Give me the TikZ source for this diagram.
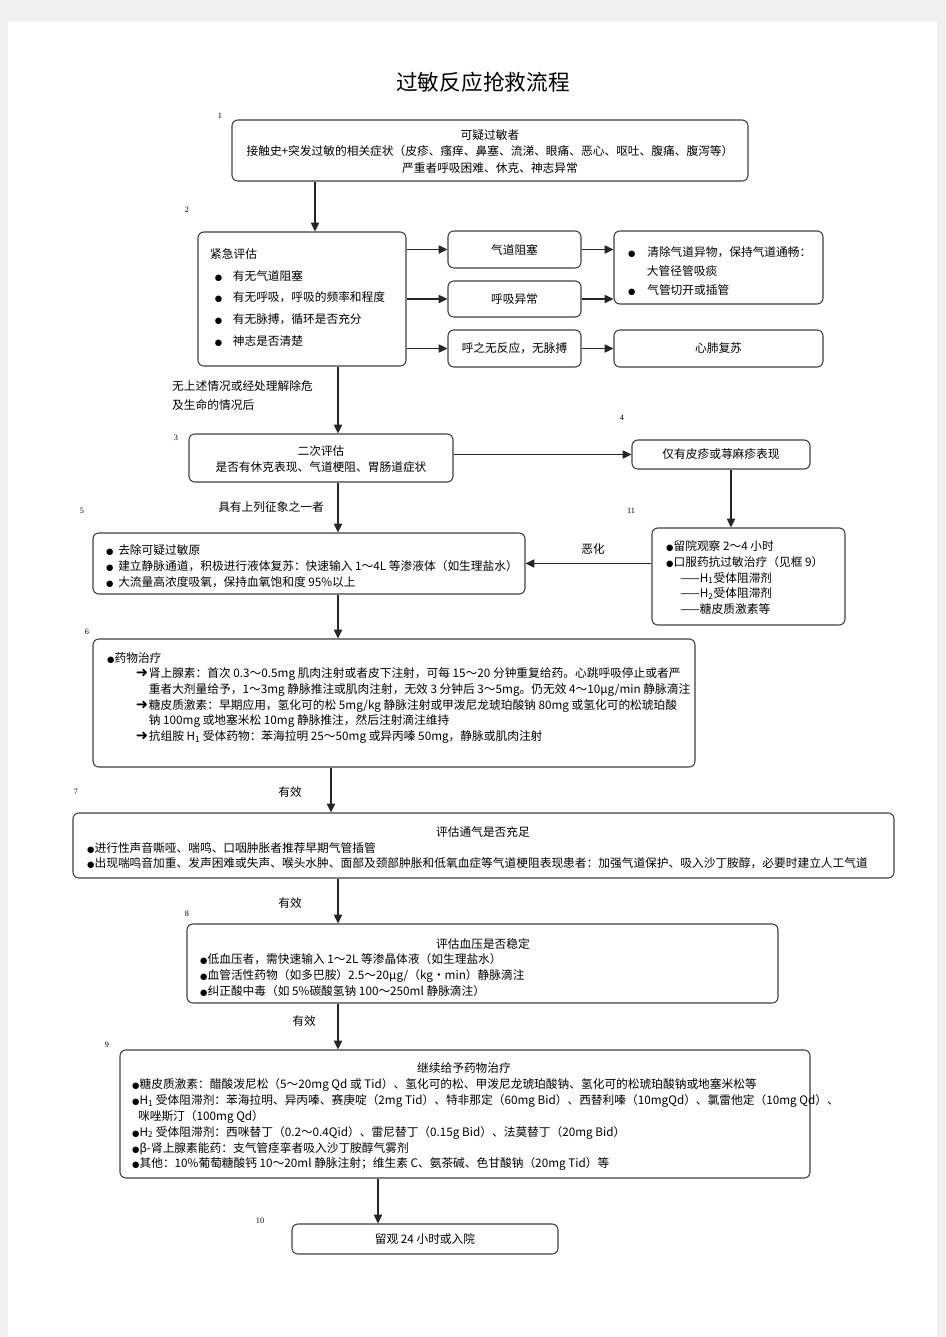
\documentclass[tikz,border=0pt]{standalone}
\usepackage{fontspec}
\setmainfont{Noto Sans CJK SC}
\newfontfamily\symfont{DejaVu Sans}
\newfontfamily\numfont{Liberation Serif}
\usetikzlibrary{arrows.meta, positioning, calc}

\newcommand{\dotb}{{\symfont\fontsize{7.2}{7}\selectfont ●}}
\newcommand{\arrb}{\makebox[11pt][l]{\symfont\bfseries\fontsize{12.5}{8}\selectfont ➜}}

\begin{document}
\begin{tikzpicture}[x=0.03cm, y=-0.03cm,
		Box/.style 2 args={
			draw=black!75, line width=0.9pt, rounded corners=5pt,
			fill=white, inner sep=0pt,
			minimum width=#1*0.03cm, minimum height=#2*0.03cm,
			align=center, font=\fontsize{10}{14}\selectfont
		},
		Txt/.style={inner sep=0pt, anchor=north west, align=left,
			font=\fontsize{10}{13.6}\selectfont},
		Num/.style={inner sep=0pt, font=\numfont\fontsize{7}{8}\selectfont},
		arr/.style={-{Triangle[length=7.5pt,width=7pt]}, line width=1pt, black!85}
	]
	% page
	\fill[black!6] (0,0) rectangle (945,1337);
	\fill[white] (8,22) rectangle (937,1337);
	\useasboundingbox (0,0) rectangle (945,1337);

	\node (title) at (483,82) {\fontsize{18.5}{20}\selectfont 过敏反应抢救流程};

	% step numbers
	\node[Num] (n1) at (220,116) {1};
	\node[Num] (n2) at (187,210) {2};
	\node[Num] (n3) at (176,438) {3};
	\node[Num] (n4) at (622,418) {4};
	\node[Num] (n5) at (82,511) {5};
	\node[Num] (n11) at (631,511) {11};
	\node[Num] (n6) at (87,632) {6};
	\node[Num] (n7) at (76,792) {7};
	\node[Num] (n8) at (187,914) {8};
	\node[Num] (n9) at (107,1045) {9};
	\node[Num] (n10) at (260,1221) {10};

	% boxes
	\node[Box={516}{61}] (b1) at (490,150.5) {\rule{0pt}{10pt}可疑过敏者\\接触史+突发过敏的相关症状（皮疹、瘙痒、鼻塞、流涕、眼痛、恶心、呕吐、腹痛、腹泻等）\\严重者呼吸困难、休克、神志异常};
	\node[Box={208}{134}] (b2) at (302,299) {};
	\node[Box={133}{37}] (air) at (514.5,249.5) {气道阻塞};
	\node[Box={133}{36}] (breath) at (514.5,299) {呼吸异常};
	\node[Box={133}{37}] (noresp) at (514.5,348.5) {呼之无反应，无脉搏};
	\node[Box={209}{73}] (clear) at (718.5,267.5) {};
	\node[Box={209}{37}] (cpr) at (718.5,348.5) {心肺复苏};
	\node[Box={264}{48}] (b3) at (321,458) {\rule{0pt}{10pt}二次评估\\是否有休克表现、气道梗阻、胃肠道症状};
	\node[Box={178}{29}] (b4) at (721,454.5) {仅有皮疹或荨麻疹表现};
	\node[Box={432}{61}] (b5) at (309,563.5) {};
	\node[Box={193}{97}] (b11) at (748.5,576.5) {};
	\node[Box={602}{128}] (b6) at (394,703) {};
	\node[Box={821}{65}] (b7) at (483.5,845.5) {};
	\node[Box={591}{79}] (b8) at (482.5,963.5) {};
	\node[Box={690}{128}] (b9) at (465,1114) {};
	\node[Box={266}{30}] (b10) at (425,1239) {留观 24 小时或入院};

	% box texts
	\node[Txt, font=\fontsize{10}{18.7}\selectfont] (t2) at (210,248) {紧急评估\\
		\hspace*{4pt}\dotb\hspace{9pt}有无气道阻塞\\
		\hspace*{4pt}\dotb\hspace{9pt}有无呼吸，呼吸的频率和程度\\
		\hspace*{4pt}\dotb\hspace{9pt}有无脉搏，循环是否充分\\
		\hspace*{4pt}\dotb\hspace{9pt}神志是否清楚};
	\node[Txt, font=\fontsize{10}{16.2}\selectfont] (tclear) at (628,246) {\dotb\hspace{10pt}清除气道异物，保持气道通畅：\\
		\hspace*{16pt}大管径管吸痰\\
		\dotb\hspace{10pt}气管切开或插管};
	\node[Txt] (t5) at (106,544) {\dotb\hspace{4pt}去除可疑过敏原\\
		\dotb\hspace{4pt}建立静脉通道，积极进行液体复苏：快速输入 1～4L 等渗液体（如生理盐水）\\
		\dotb\hspace{4pt}大流量高浓度吸氧，保持血氧饱和度 95\%以上};
	\node[Txt] (t11) at (666,540) {\dotb 留院观察 2～4 小时\\
		\dotb 口服药抗过敏治疗（见框 9）\\
		\hspace*{12pt}——H\textsubscript{1}受体阻滞剂\\
		\hspace*{12pt}——H\textsubscript{2}受体阻滞剂\\
		\hspace*{12pt}——糖皮质激素等};
	\node[Txt, font=\fontsize{10}{13.4}\selectfont] (t6) at (107,652) {\dotb 药物治疗\\
		\hspace*{24.5pt}\arrb 肾上腺素：首次 0.3～0.5mg 肌肉注射或者皮下注射，可每 15～20 分钟重复给药。心跳呼吸停止或者严\\
		\hspace*{35.5pt}重者大剂量给予，1～3mg 静脉推注或肌肉注射，无效 3 分钟后 3～5mg。仍无效 4～10μg/min 静脉滴注\\
		\hspace*{24.5pt}\arrb 糖皮质激素：早期应用，氢化可的松 5mg/kg 静脉注射或甲泼尼龙琥珀酸钠 80mg 或氢化可的松琥珀酸\\
		\hspace*{35.5pt}钠 100mg 或地塞米松 10mg 静脉推注，然后注射滴注维持\\
		\hspace*{24.5pt}\arrb 抗组胺 H\textsubscript{1} 受体药物：苯海拉明 25～50mg 或异丙嗪 50mg，静脉或肌肉注射};
	\node (t7h) at (483,832) {评估通气是否充足};
	\node[Txt, font=\fontsize{10}{12.8}\selectfont] (t7) at (87,842) {\dotb 进行性声音嘶哑、喘鸣、口咽肿胀者推荐早期气管插管\\
		\dotb 出现喘鸣音加重、发声困难或失声、喉头水肿、面部及颈部肿胀和低氧血症等气道梗阻表现患者：加强气道保护、吸入沙丁胺醇，必要时建立人工气道};
	\node (t8h) at (483,944) {评估血压是否稳定};
	\node[Txt] (t8) at (200,953) {\dotb 低血压者，需快速输入 1～2L 等渗晶体液（如生理盐水）\\
		\dotb 血管活性药物（如多巴胺）2.5～20μg/（kg・min）静脉滴注\\
		\dotb 纠正酸中毒（如 5\%碳酸氢钠 100～250ml 静脉滴注）};
	\node (t9h) at (464,1068) {继续给予药物治疗};
	\node[Txt] (t9) at (132,1078) {\dotb 糖皮质激素：醋酸泼尼松（5～20mg Qd 或 Tid）、氢化可的松、甲泼尼龙琥珀酸钠、氢化可的松琥珀酸钠或地塞米松等\\
		\dotb H\textsubscript{1} 受体阻滞剂：苯海拉明、异丙嗪、赛庚啶（2mg Tid）、特非那定（60mg Bid）、西替利嗪（10mgQd）、氯雷他定（10mg Qd）、\\
		\hspace*{5pt}咪唑斯汀（100mg Qd）\\
		\dotb H\textsubscript{2} 受体阻滞剂：西咪替丁（0.2～0.4Qid）、雷尼替丁（0.15g Bid）、法莫替丁（20mg Bid）\\
		\dotb β-肾上腺素能药：支气管痉挛者吸入沙丁胺醇气雾剂\\
		\dotb 其他：10\%葡萄糖酸钙 10～20ml 静脉注射；维生素 C、氨茶碱、色甘酸钠（20mg Tid）等};

	% edge labels
	\node[Txt, anchor=west, font=\fontsize{10}{16}\selectfont] (lab1) at (172,395.5) {无上述情况或经处理解除危\\及生命的情况后};
	\node (lab2) at (271,507) {具有上列征象之一者};
	\node (lab3) at (593,549) {恶化};
	\node (lab4) at (290,792) {有效};
	\node (lab5) at (290,903) {有效};
	\node (lab6) at (304,1021) {有效};

	% connectors
	\coordinate (ax1) at (315,0);
	\coordinate (ax2) at (338,0);
	\coordinate (ax3) at (331,0);
	\coordinate (ax4) at (378,0);
	\coordinate (ax5) at (731,0);
	\draw[arr] (ax1 |- b1.south) -- (ax1 |- b2.north);
	\draw[arr] (b2.east |- air.west) -- (air.west);
	\draw[arr] (b2.east |- breath.west) -- (breath.west);
	\draw[arr] (b2.east |- noresp.west) -- (noresp.west);
	\draw[arr] (air.east) -- (air.east -| clear.west);
	\draw[arr] (breath.east) -- (breath.east -| clear.west);
	\draw[arr] (noresp.east) -- (cpr.west);
	\draw[arr] (ax2 |- b2.south) -- (ax2 |- b3.north);
	\draw[arr] (b3.east |- b4.west) -- (b4.west);
	\draw[arr] (ax5 |- b4.south) -- (ax5 |- b11.north);
	\draw[arr] (ax2 |- b3.south) -- (ax2 |- b5.north);
	\draw[arr] (b11.west |- b5.east) -- (b5.east);
	\draw[arr] (ax2 |- b5.south) -- (ax2 |- b6.north);
	\draw[arr] (ax3 |- b6.south) -- (ax3 |- b7.north);
	\draw[arr] (ax2 |- b7.south) -- (ax2 |- b8.north);
	\draw[arr] (ax2 |- b8.south) -- (ax2 |- b9.north);
	\draw[arr] (ax4 |- b9.south) -- (ax4 |- b10.north);
\end{tikzpicture}
\end{document}
